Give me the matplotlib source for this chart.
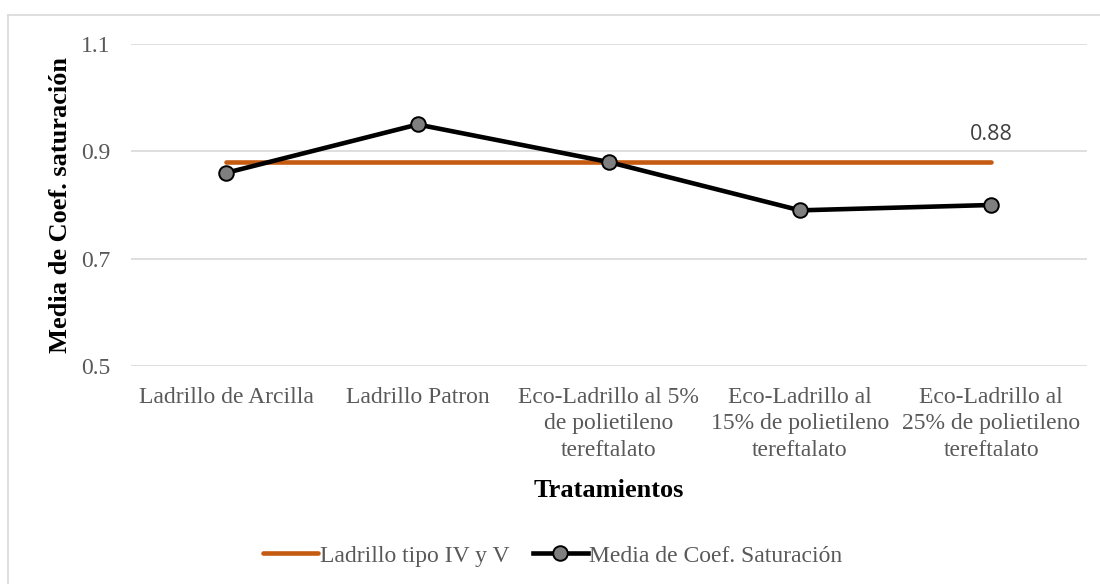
import matplotlib.pyplot as plt
from matplotlib.lines import Line2D

# Datos
tratamientos = ['Ladrillo de Arcilla', 'Ladrillo Patron',
                'Eco-Ladrillo al 5%\nde polietileno\ntereftalato',
                'Eco-Ladrillo al\n15% de polietileno\ntereftalato',
                'Eco-Ladrillo al\n25% de polietileno\ntereftalato']
media_coef = [0.86, 0.95, 0.88, 0.79, 0.80]
norma = [0.88, 0.88, 0.88, 0.88, 0.88]
y_ticks = [0.5, 0.7, 0.9, 1.1]

plt.rcParams['font.family'] = ['Liberation Serif', 'DejaVu Serif']

fig = plt.figure(figsize=(11, 5.84), dpi=100)
ax = fig.add_axes([0.119, 0.3733, 0.869, 0.5514])

x = list(range(len(tratamientos)))
ax.plot(x, norma, color='#C55A11', lw=3.3, solid_capstyle='round',
        label='Ladrillo tipo IV y V', zorder=2)
ax.plot(x, media_coef, color='black', lw=3.3, marker='o', markersize=10.5,
        markerfacecolor='#7F7F7F', markeredgecolor='black', markeredgewidth=1.4,
        label='Media de Coef. Saturación', zorder=3)

ax.annotate(f'{norma[-1]:.2f}', (x[-1], norma[-1]), xytext=(0, 12),
            textcoords='offset points', ha='center', va='bottom',
            fontsize=15.5, color='#404040', family=['Open Sans', 'DejaVu Sans'])

ax.set_xlim(-0.5, len(tratamientos) - 0.5)
ax.set_ylim(0.5, 1.1)
ax.set_yticks(y_ticks)
ax.set_yticklabels([f'{v:g}' for v in y_ticks])
ax.set_xticks(x)
ax.set_xticklabels(tratamientos, linespacing=1.35)
ax.tick_params(axis='both', length=0, labelsize=17, colors='#595959')
ax.tick_params(axis='y', pad=15)
ax.tick_params(axis='x', pad=15)
ax.grid(axis='y', color='#D9D9D9', lw=1.2)
ax.set_axisbelow(True)
for s in ax.spines.values():
    s.set_visible(False)

ax.set_ylabel('Media de Coef. saturación', fontsize=19, fontweight='bold', labelpad=6)
ax.set_xlabel('Tratamientos', fontsize=19, fontweight='bold', labelpad=13)

fig.legend(loc='center', bbox_to_anchor=(0.5025, 0.048), ncol=2, frameon=False,
           fontsize=17, handlelength=2.35, handletextpad=0.05, columnspacing=1.0,
           labelcolor='#595959')

# marco del grafico (solo borde superior e izquierdo)
fig.add_artist(Line2D([8 / 1100, 1], [1 - 15 / 584, 1 - 15 / 584],
                      transform=fig.transFigure, color='#D9D9D9', lw=1.2))
fig.add_artist(Line2D([8 / 1100, 8 / 1100], [0, 1 - 15 / 584],
                      transform=fig.transFigure, color='#D9D9D9', lw=1.2))

fig.savefig('out.png', dpi=100)
